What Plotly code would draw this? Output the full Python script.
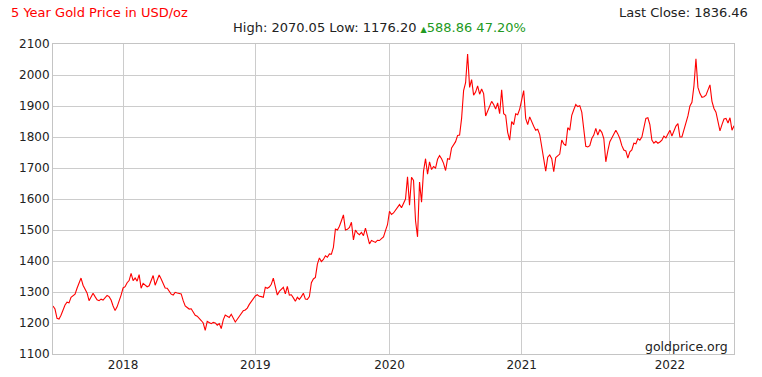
import plotly.graph_objects as go

# Gold price samples (USD/oz), grouped by calendar year, evenly spaced samples
p2017 = [1255, 1245, 1215, 1213, 1225, 1245, 1258, 1267, 1265, 1283, 1288, 1293,
         1312, 1330, 1345, 1322, 1310, 1297, 1272, 1282, 1296, 1285, 1275, 1272,
         1277, 1274, 1283, 1289, 1285, 1274, 1255, 1240, 1252, 1270, 1290]
p2018 = [1313, 1317, 1330, 1337, 1360, 1337, 1345, 1335, 1356, 1312, 1328, 1322,
         1317, 1320, 1340, 1353, 1322, 1337, 1355, 1342, 1328, 1313, 1312, 1304,
         1293, 1290, 1299, 1297, 1296, 1294, 1272, 1255, 1250, 1245, 1246, 1234,
         1225, 1222, 1213, 1208, 1200, 1176, 1205, 1200, 1198, 1202, 1200, 1193,
         1198, 1182, 1210, 1226, 1222, 1218, 1228, 1215, 1203, 1212, 1221, 1230,
         1240, 1242, 1248, 1260, 1270, 1278]
p2019 = [1287, 1291, 1286, 1285, 1283, 1315, 1312, 1316, 1325, 1345, 1315, 1290,
         1302, 1310, 1315, 1294, 1318, 1290, 1291, 1281, 1270, 1283, 1276, 1285,
         1296, 1277, 1276, 1285, 1330, 1342, 1347, 1390, 1410, 1398, 1405, 1417,
         1412, 1423, 1422, 1444, 1503, 1500, 1512, 1530, 1549, 1500, 1502, 1508,
         1525, 1468, 1500, 1490, 1485, 1492, 1482, 1506, 1482, 1455, 1466, 1462,
         1460, 1467, 1466, 1472, 1478, 1498, 1517]
p2020 = [1560, 1550, 1555, 1565, 1575, 1582, 1572, 1585, 1600, 1672, 1580, 1670,
         1660, 1530, 1478, 1655, 1590, 1690, 1730, 1680, 1720, 1695, 1705, 1700,
         1728, 1740, 1730, 1715, 1692, 1730, 1728, 1765, 1777, 1785, 1805, 1806,
         1860, 1950, 1975, 2068, 1960, 1985, 1935, 1945, 1965, 1938, 1955, 1940,
         1868, 1885, 1900, 1915, 1905, 1890, 1910, 1875, 1952, 1875, 1870, 1815,
         1790, 1850, 1840, 1875, 1872, 1890]
p2021 = [1920, 1950, 1860, 1840, 1865, 1848, 1835, 1822, 1825, 1808, 1770, 1720,
         1690, 1735, 1742, 1730, 1688, 1734, 1740, 1745, 1790, 1778, 1772, 1830,
         1822, 1870, 1888, 1905, 1898, 1901, 1880, 1820, 1770, 1768, 1772, 1795,
         1806, 1828, 1806, 1824, 1815, 1795, 1720, 1755, 1785, 1797, 1812, 1822,
         1810, 1795, 1772, 1758, 1755, 1732, 1752, 1758, 1780, 1778, 1795, 1790,
         1800, 1830, 1860, 1862, 1840, 1790, 1780, 1786, 1780, 1784, 1790, 1803,
         1797, 1810]
p2022 = [1822, 1803, 1818, 1835, 1843, 1800, 1800, 1822, 1845, 1868, 1900, 1912,
         1965, 2052, 1960, 1940, 1928, 1930, 1935, 1955, 1968, 1915, 1892, 1880,
         1850, 1820, 1840, 1858, 1860, 1845, 1862, 1822, 1836]

years = [p2017, p2018, p2019, p2020, p2021, p2022]
year_labels = ["2018", "2019", "2020", "2021", "2022"]
y_ticks = list(range(1100, 2101, 100))

prices = [v for yr in years for v in yr]
idx = list(range(len(prices)))

# tick positions: first sample of each new year
tickvals = []
acc = 0
for yr in years[:-1]:
    acc += len(yr)
    tickvals.append(acc)

font = "DejaVu Sans, Verdana, sans-serif"

fig = go.Figure()
fig.add_trace(go.Scatter(x=idx, y=prices, mode="lines",
                         line=dict(color="#ff0000", width=1.1),
                         hoverinfo="y", showlegend=False))

fig.update_layout(
    width=762, height=377,
    margin=dict(l=53, r=28, t=44, b=23, autoexpand=False),
    paper_bgcolor="white", plot_bgcolor="white",
    font=dict(family=font, size=12, color="#222222"),
    xaxis=dict(range=[0, len(prices) - 1], tickmode="array",
               tickvals=tickvals, ticktext=year_labels, automargin=False,
               showgrid=True, gridcolor="#cccccc", gridwidth=1,
               showline=True, linecolor="#c4c4c4", linewidth=1, mirror=True,
               zeroline=False, ticks="", fixedrange=True),
    yaxis=dict(range=[1100, 2100], tickmode="array", tickvals=y_ticks,
               automargin=False,
               showgrid=True, gridcolor="#cccccc", gridwidth=1,
               showline=True, linecolor="#c4c4c4", linewidth=1, mirror=True,
               zeroline=False, ticks="", fixedrange=True),
)

fig.add_annotation(text="5 Year Gold Price in USD/oz", xref="paper", yref="paper",
                   x=-0.065, y=1.103, xanchor="left", yanchor="middle",
                   showarrow=False, font=dict(color="#ff0000", size=13, family=font))
fig.add_annotation(text="Last Close: 1836.46", xref="paper", yref="paper",
                   x=1.023, y=1.103, xanchor="right", yanchor="middle",
                   showarrow=False, font=dict(color="#222222", size=13, family=font))
fig.add_annotation(
    text="High: 2070.05 Low: 1176.20 <span style='color:#229922'>"
         "<span style='font-size:8px'>▲</span>588.86 47.20%</span>",
    xref="paper", yref="paper", x=0.479, y=1.052, xanchor="center", yanchor="middle",
    showarrow=False, font=dict(color="#222222", size=13, family=font))
fig.add_annotation(text="goldprice.org", xref="paper", yref="paper",
                   x=0.9937, y=0.0235, xanchor="right", yanchor="middle",
                   showarrow=False, font=dict(color="#222222", size=12.5, family=font))

fig.write_html("out.html", config={"displayModeBar": False},
               post_script="document.body.style.margin='0';"
                           "document.body.style.overflow='hidden';")
